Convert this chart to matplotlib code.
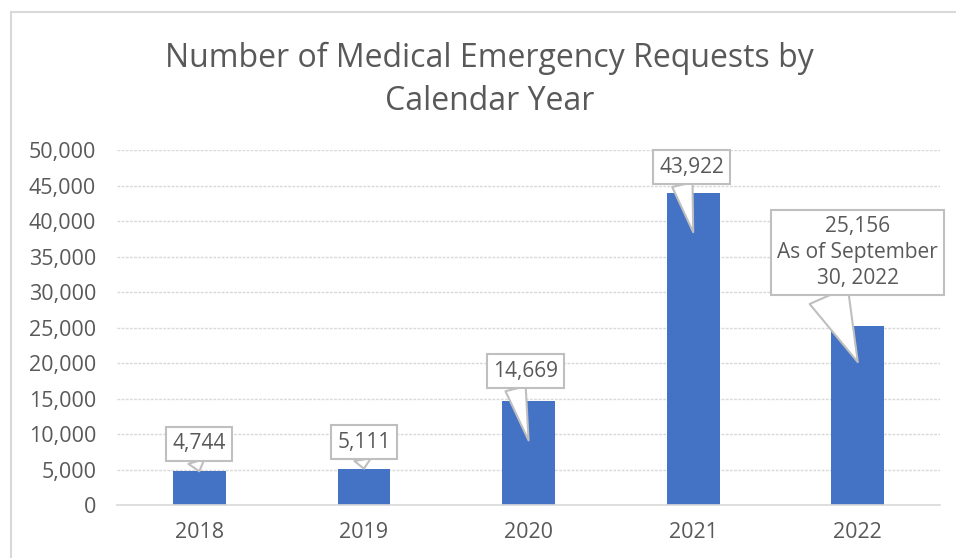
import matplotlib
matplotlib.use("Agg")
import matplotlib.pyplot as plt
from matplotlib.patches import Rectangle
from matplotlib.ticker import FuncFormatter

plt.rcParams["font.family"] = ["Open Sans", "DejaVu Sans"]

GREY_TXT = "#595959"
GRID = "#d9d9d9"
BLUE = "#4472c4"

years = ["2018", "2019", "2020", "2021", "2022"]
requests = [4744, 5111, 14669, 43922, 25156]
label_text = ["4,744", "5,111", "14,669", "43,922", "25,156\nAs of September\n30, 2022"]

# callout layout: pointer tip (fraction of bar height), box centre (data y), box x shift,
# where the pointer leaves the box (fraction of box width) and how wide its base is
tip_frac = [1.0, 1.0, 0.62, 0.875, 0.80]
box_y = [8600, 8850, 18850, 47600, 35600]
box_dx = [0.0, 0.0, -0.02, -0.01, 0.0]
base_pos = [0.4, 0.45, 0.32, 0.33, 0.29]
base_w = [0.8, 0.8, 1.0, 1.0, 2.0]

fig = plt.figure(figsize=(9.56, 5.58), dpi=100)
ax = fig.add_axes([0.1224, 0.095, 0.861, 0.636])

x = range(len(years))
ax.bar(x, requests, width=0.32, color=BLUE, zorder=2)
ax.set_xlim(-0.5, len(years) - 0.5)
ax.set_ylim(0, 50000)
ax.set_yticks(range(0, 50001, 5000))
ax.yaxis.set_major_formatter(FuncFormatter(lambda v, p: f"{int(v):,}"))
ax.set_xticks(list(x))
ax.set_xticklabels(years)
ax.tick_params(length=0, labelsize=15.5, colors=GREY_TXT)
ax.tick_params(axis="y", pad=15)
ax.tick_params(axis="x", pad=12)
ax.grid(axis="y", color=GRID, linewidth=1, linestyle=(0, (2, 1)), zorder=0)
for s in ("top", "right", "left"):
    ax.spines[s].set_visible(False)
ax.spines["bottom"].set_color(GRID)
ax.spines["bottom"].set_linewidth(1.2)

for i, (v, t) in enumerate(zip(requests, label_text)):
    ax.annotate(t, xy=(i, v * tip_frac[i]), xytext=(i + box_dx[i], box_y[i]),
                ha="center", va="center", fontsize=15, color=GREY_TXT,
                linespacing=1.3, zorder=5,
                bbox=dict(boxstyle="square,pad=0.3", fc="white", ec="#bfbfbf", lw=1.5),
                arrowprops=dict(arrowstyle=f"wedge,tail_width={base_w[i]},shrink_factor=0.5",
                                fc="white", ec="#bfbfbf", lw=1.5,
                                relpos=(base_pos[i], 0.05), shrinkA=0, shrinkB=0))

fig.text(0.512, 0.857, "Number of Medical Emergency Requests by\nCalendar Year",
         ha="center", va="center", fontsize=23, color=GREY_TXT, linespacing=1.42)

fig.patches.append(Rectangle((11 / 956, -0.1), 1.2, 1.1 - 12 / 558,
                             transform=fig.transFigure, fill=False,
                             ec=GRID, lw=1.5, zorder=-1))

fig.savefig("out.png", dpi=100, facecolor="white")
